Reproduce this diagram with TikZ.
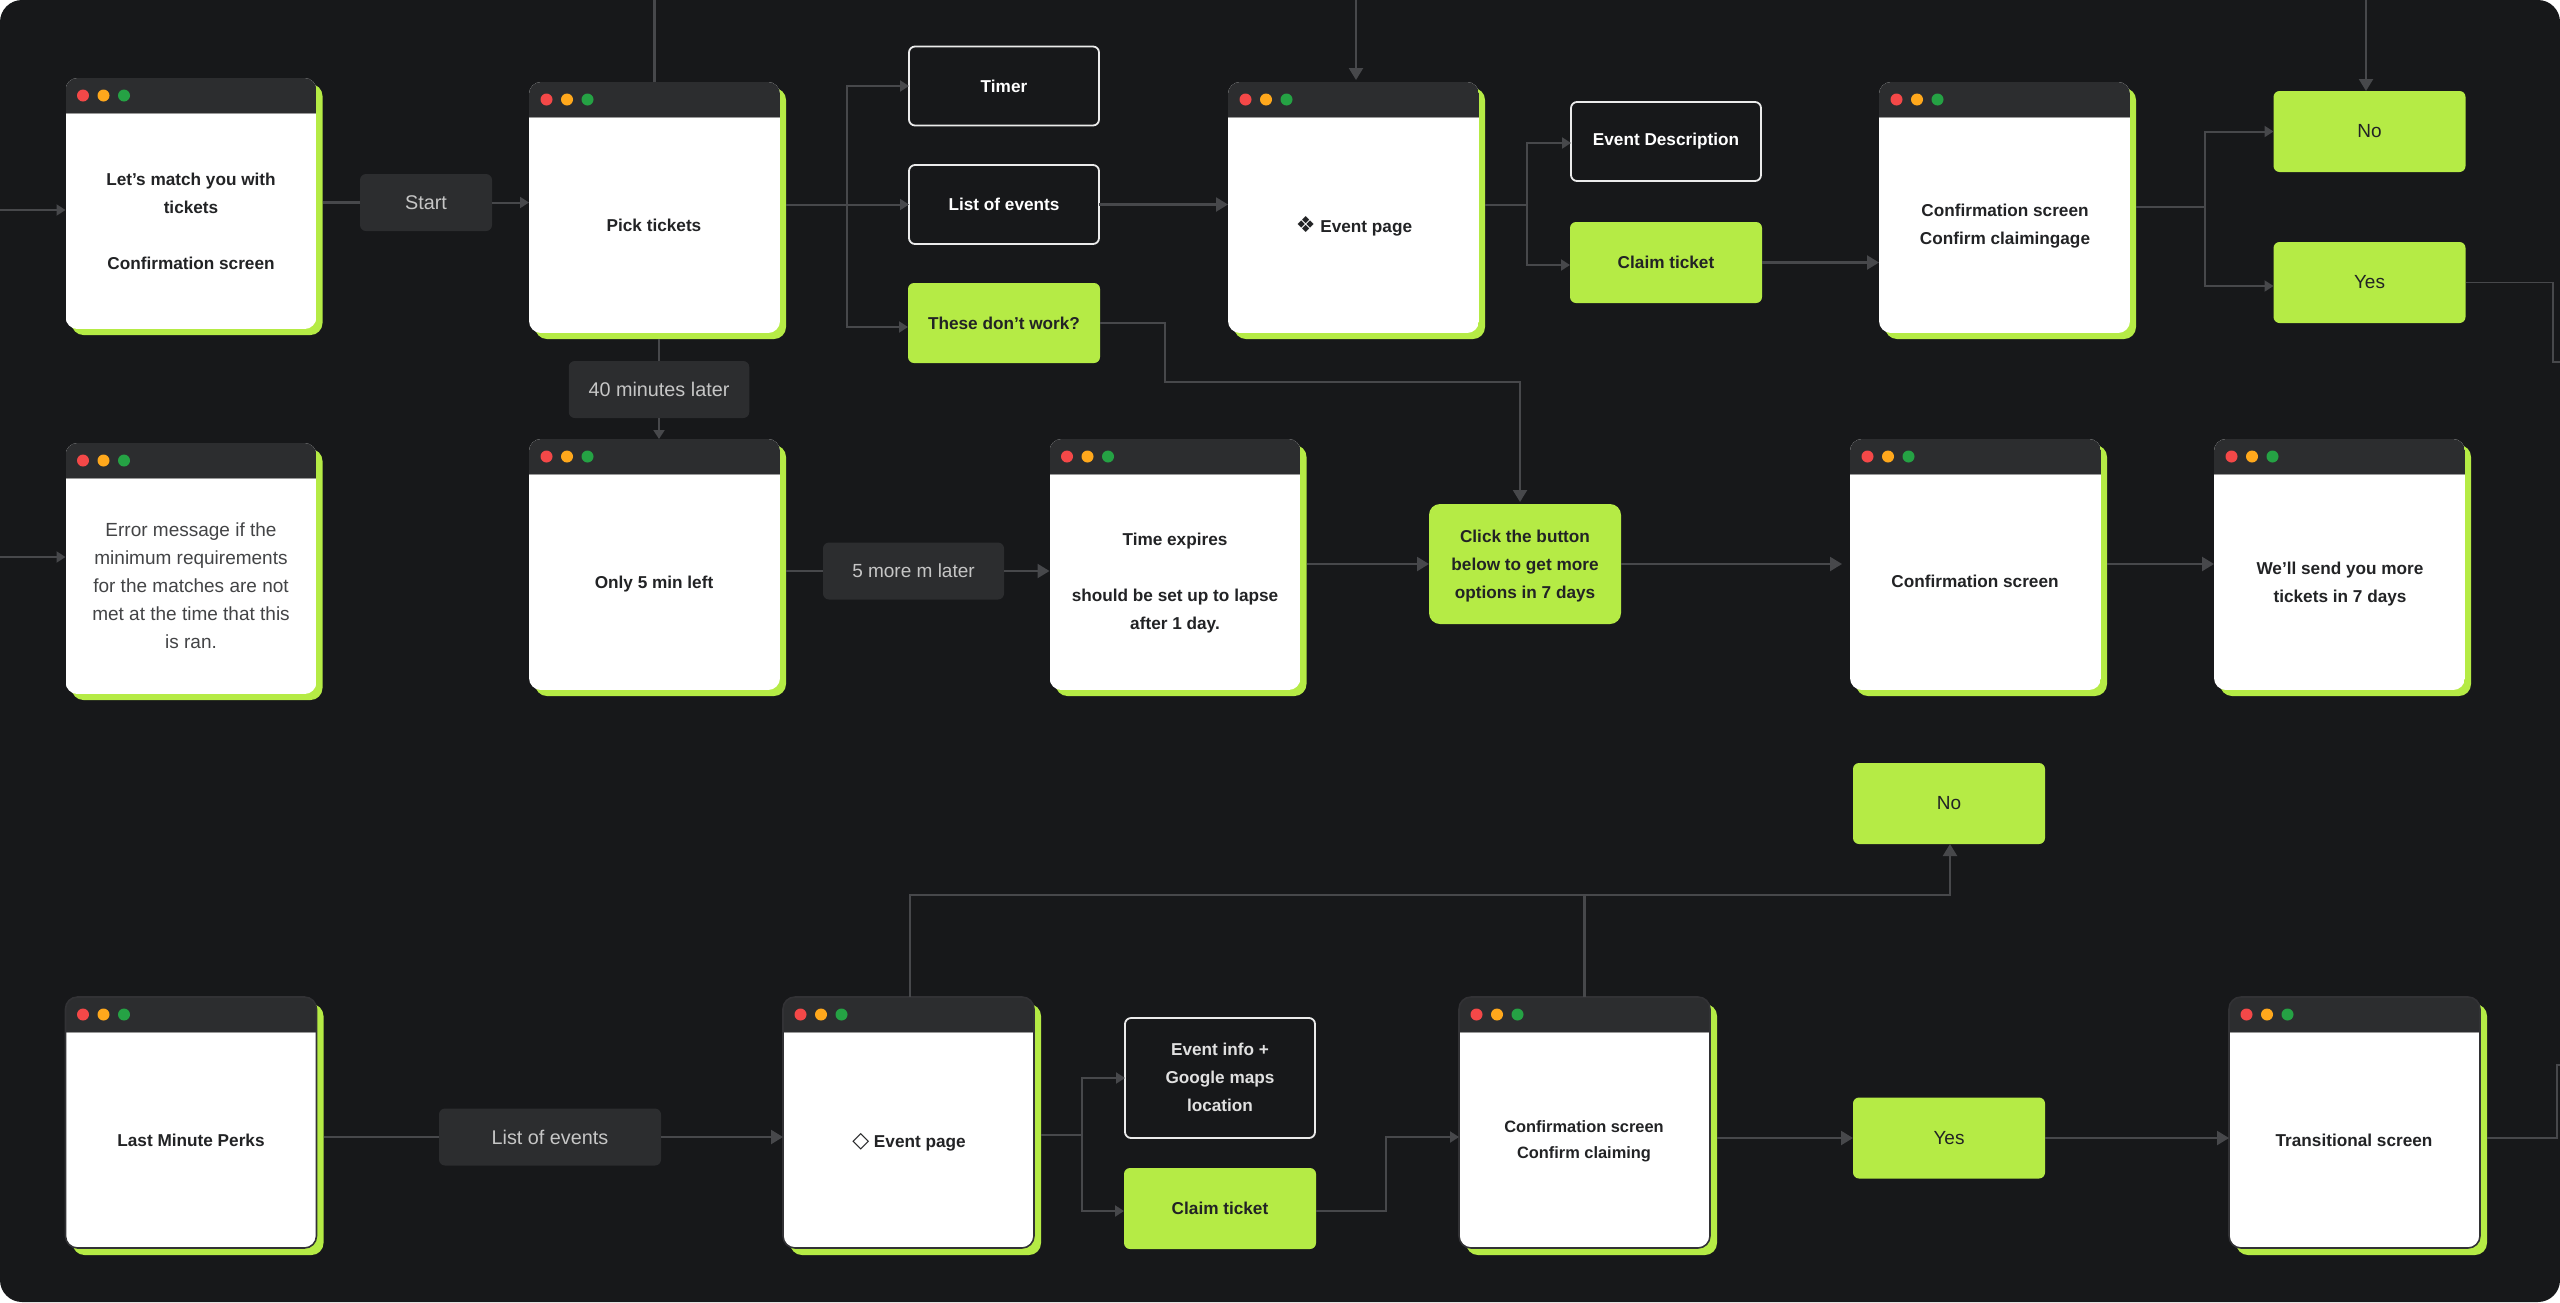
\documentclass[tikz,border=0pt]{standalone}
\usepackage{fontspec}
\setmainfont{Liberation Sans}
\newfontfamily\symfont{DejaVu Sans}
\usetikzlibrary{arrows.meta,calc}
\definecolor{bgc}{HTML}{17181A}
\definecolor{titlec}{HTML}{2C2D2F}
\definecolor{limec}{HTML}{B5EB45}
\definecolor{linec}{HTML}{47484B}
\definecolor{labelc}{HTML}{2C2D2F}
\definecolor{labeltxt}{HTML}{C6C6C6}
\definecolor{inkc}{HTML}{222325}
\definecolor{dotr}{HTML}{F44848}
\definecolor{doto}{HTML}{FFA81C}
\definecolor{dotg}{HTML}{25A244}
\tikzset{
  x=1pt,y=-1pt,
  boxbase/.style={rectangle,rounded corners=6pt,inner sep=0pt,outer sep=0pt,minimum width=192pt,minimum height=81pt,align=center,font=\fontsize{17.2}{28}\selectfont\bfseries},
  whitebox/.style={boxbase,draw=white!92!black,line width=1.8pt,fill=bgc,text=white,minimum width=190pt,minimum height=79pt},
  greenbox/.style={boxbase,fill=limec,text=inkc},
  labelbox/.style={rectangle,rounded corners=6pt,inner sep=0pt,outer sep=0pt,fill=labelc,text=labeltxt,minimum height=57pt,font=\fontsize{19.8}{24}\selectfont},
  wintext/.style={inner sep=0pt,outer sep=0pt,align=center,text=inkc,font=\fontsize{17.2}{28}\selectfont\bfseries},
  winplain/.style={inner sep=0pt,outer sep=0pt,align=center,text=inkc!85!white,font=\fontsize{19}{28}\selectfont},
  winframe/.style={rectangle,rounded corners=12pt,inner sep=0pt,outer sep=0pt,minimum width=251pt,minimum height=251pt,anchor=north west},
  winshadow/.style={winframe,fill=limec},
  conn/.style={draw=linec,line width=2.2pt},
  big/.style={conn,-{Triangle[length=12pt,width=14pt]}},
  small/.style={draw=linec,line width=2pt,-{Triangle[length=9pt,width=11pt]}},
  plain/.style={conn},
  edged/.style={draw=linec!70!black,line width=1.6pt},
}
\def\shoff{6}
% name, left, top, frame options
\newcommand{\winbox}[4]{%
  \node[winshadow] (#1s) at (#2+\shoff,#3+\shoff) {};
  \begin{scope}
    \clip[rounded corners=12pt] (#2,#3) rectangle (#2+251,#3+251);
    \fill[white] (#2,#3) rectangle (#2+251,#3+251);
    \fill[titlec] (#2,#3) rectangle (#2+251,#3+35);
    \fill[gray!80] (#2,#3+34.5) rectangle (#2+251,#3+36);
  \end{scope}
  \node[winframe,#4] (#1) at (#2,#3) {};
  \fill[dotr] (#2+17.5,#3+17.5) circle (6pt);
  \fill[doto] (#2+38,#3+17.5) circle (6pt);
  \fill[dotg] (#2+58.5,#3+17.5) circle (6pt);
}
\begin{document}
\begin{tikzpicture}
\useasboundingbox (0,0) rectangle (2560,1302);
\fill[white] (0,0) rectangle (2560,1302);
\fill[bgc,rounded corners=22pt] (0,0) rectangle (2560,1302);

% windows, row 1
\winbox{wa}{65.5}{78}{}
\node[wintext] (wat) at (191,221) {Let’s match you with\\tickets\\[28pt]Confirmation screen};
\winbox{pick}{529}{82}{}
\node[wintext] (pickt) at (654,225) {Pick tickets};
\winbox{event}{1228}{82}{}
\node[wintext] (eventt) at (1354,226) {{\symfont\fontsize{22}{20}\selectfont ❖} Event page};
\winbox{conf}{1879}{82}{}
\node[wintext] (conft) at (2005,226.5) {Confirmation screen\\Confirm claimingage};

% windows, row 2
\winbox{err}{65.5}{443}{}
\node[winplain] (errt) at (191,586) {Error message if the\\minimum requirements\\for the matches are not\\met at the time that this\\is ran.};
\winbox{five}{529}{439}{}
\node[wintext] (fivet) at (654,584.5) {Only 5 min left};
\winbox{time}{1049.5}{439}{}
\node[wintext] (timet) at (1175,583.5) {Time expires\\[28pt]should be set up to lapse\\after 1 day.};
\winbox{cs}{1850}{439}{}
\node[wintext] (cst) at (1975,581.5) {Confirmation screen};
\winbox{more}{2214}{439}{}
\node[wintext] (moret) at (2340,584.5) {We’ll send you more\\tickets in 7 days};

% windows, row 3
\def\shoff{7}
\winbox{last}{65.5}{997}{edged}
\node[wintext] (lastt) at (191,1140) {Last Minute Perks};
\winbox{evb}{783}{997}{edged}
\node[wintext] (evbt) at (909,1142.5) {{\symfont\fontsize{22}{20}\selectfont ◇} Event page};
\winbox{cfb}{1459}{997}{edged}
\node[wintext,font=\fontsize{16.4}{26}\selectfont\bfseries] (cfbt) at (1584,1141.5) {Confirmation screen\\Confirm claiming};
\winbox{trans}{2229}{997}{edged}
\node[wintext] (transt) at (2354,1140) {Transitional screen};

% boxes
\node[whitebox] (timer) at (1004,86) {\raisebox{-1.5pt}{Timer}};
\node[whitebox] (list) at (1004,204.5) {\raisebox{-1.5pt}{List of events}};
\node[greenbox,minimum height=80pt] (these) at (1004,323) {\raisebox{-1.5pt}{These don’t work?}};
\node[whitebox] (edesc) at (1666,141.5) {\raisebox{-3pt}{Event Description}};
\node[greenbox] (claim) at (1666,262.5) {\raisebox{-1.5pt}{Claim ticket}};
\node[greenbox] (noa) at (2369.5,131.5) {\raisebox{-1.5pt}{\mdseries\fontsize{19}{28}\selectfont No}};
\node[greenbox] (yesa) at (2369.5,282.5) {\raisebox{-1.5pt}{\mdseries\fontsize{19}{28}\selectfont Yes}};
\node[greenbox,rounded corners=11pt,minimum height=120pt,text depth=-2pt] (click) at (1525,564) {Click the button\\below to get more\\options in 7 days};
\node[whitebox,minimum height=120pt,text=white!88!black] (info) at (1220,1078) {\raisebox{1.5pt}{\begin{tabular}{@{}c@{}}Event info +\\Google maps\\location\end{tabular}}};
\node[greenbox] (claimb) at (1220,1208.5) {\raisebox{-1.5pt}{Claim ticket}};
\node[greenbox] (nob) at (1949,803.5) {\raisebox{-1.5pt}{\mdseries\fontsize{19}{28}\selectfont No}};
\node[greenbox] (yesb) at (1949,1138) {\raisebox{-1pt}{\mdseries\fontsize{19}{28}\selectfont Yes}};

% labels
\node[labelbox,minimum width=132pt] (start) at (426,202.5) {Start};
\node[labelbox,minimum width=180.5pt] (fortymin) at (659,389.5) {\raisebox{1pt}{40 minutes later}};
\node[labelbox,minimum width=181pt,font=\fontsize{19}{24}\selectfont] (fivemore) at (913.5,571) {5 more m later};
\node[labelbox,minimum width=222pt] (loe) at (550,1137) {List of events};

% free ends and bends
\coordinate (ina) at (0,210);
\coordinate (inb) at (0,557);
\coordinate (topa) at (654.5,0);
\coordinate (topb) at (1356,0);
\coordinate (topc) at (2366,0);
\coordinate (forka) at (847,205);
\coordinate (forkb) at (1527,205);
\coordinate (forkc) at (2205,207);
\coordinate (forkd) at (1082,1135);
\coordinate (bendt) at (1165,382);
\coordinate (bendy) at (2553,362);
\coordinate (exity) at (2560,362);
\coordinate (bendc) at (1386,1137);
\coordinate (bendl) at (910,895);
\coordinate (bendr) at (2557,1065);
\coordinate (exitr) at (2560,1065);

% connectors, row 1
\draw[small] (ina) -- (wa.west |- ina);
\draw[plain] (was.east |- start.west) -- (start.west);
\draw[small] (start.east) -- (pick.west |- start.east);
\draw[plain] (topa) -- (pick.north);
\draw[plain] (fortymin.north |- picks.south) -- (fortymin.north);
\draw[small] (fortymin.south) -- (fortymin.south |- five.north);
\draw[small] (picks.east |- list.west) -- (list.west);
\draw[small] (forka) |- (timer.west);
\draw[small] (forka) |- ([yshift=-4pt]these.west);
\draw[big] (list.east) -- (event.west |- list.east);
\draw[big,shorten >=2pt] (topb) -- (topb |- event.north);
\draw[plain] (events.east |- forkb) -- (forkb);
\draw[small] (forkb) |- ([yshift=-1.5pt]edesc.west);
\draw[small] (forkb) |- ([yshift=-2.5pt]claim.west);
\draw[big] (claim.east) -- (conf.west |- claim.east);
\draw[plain] (confs.east |- forkc) -- (forkc);
\draw[small] (forkc) |- (noa.west);
\draw[small] (forkc) |- ([yshift=-3.5pt]yesa.west);
\draw[big] (topc) -- (topc |- noa.north);
\draw[draw=linec,line width=1.8pt] (yesa.east) -| (bendy) -- (exity);
\draw[big,shorten >=2pt] (these.east) -| (bendt) -| ([xshift=-5pt]click.north);

% connectors, row 2
\draw[small] (inb) -- (err.west |- inb);
\draw[plain] (fives.east |- fivemore.west) -- (fivemore.west);
\draw[big] (fivemore.east) -- (time.west |- fivemore.east);
\draw[big] (times.east |- click.west) -- (click.west);
\draw[big,shorten >=8pt] (click.east) -- (cs.west |- click.east);
\draw[big] (css.east |- click.east) -- (more.west |- click.east);

% connectors, row 3
\draw[plain] (lasts.east |- loe.west) -- (loe.west);
\draw[big] (loe.east) -- (evb.west |- loe.east);
\draw[plain] (evbs.east |- forkd) -- (forkd);
\draw[small] (forkd) |- (info.west);
\draw[small] (forkd) |- ([yshift=-2.5pt]claimb.west);
\draw[small] ([yshift=-2.5pt]claimb.east) -| (bendc) -- (cfb.west |- bendc);
\draw[big] (cfbs.east |- yesb.west) -- (yesb.west);
\draw[big] (yesb.east) -- (trans.west |- yesb.east);
\draw[big] (bendl |- evb.north) -- (bendl) -| ([xshift=1pt]nob.south);
\draw[plain] (cfb.north) -- (cfb.north |- bendl);
\draw[draw=linec,line width=1.8pt] (transs.east |- yesb.east) -| (bendr) -- (exitr);
\end{tikzpicture}
\end{document}
